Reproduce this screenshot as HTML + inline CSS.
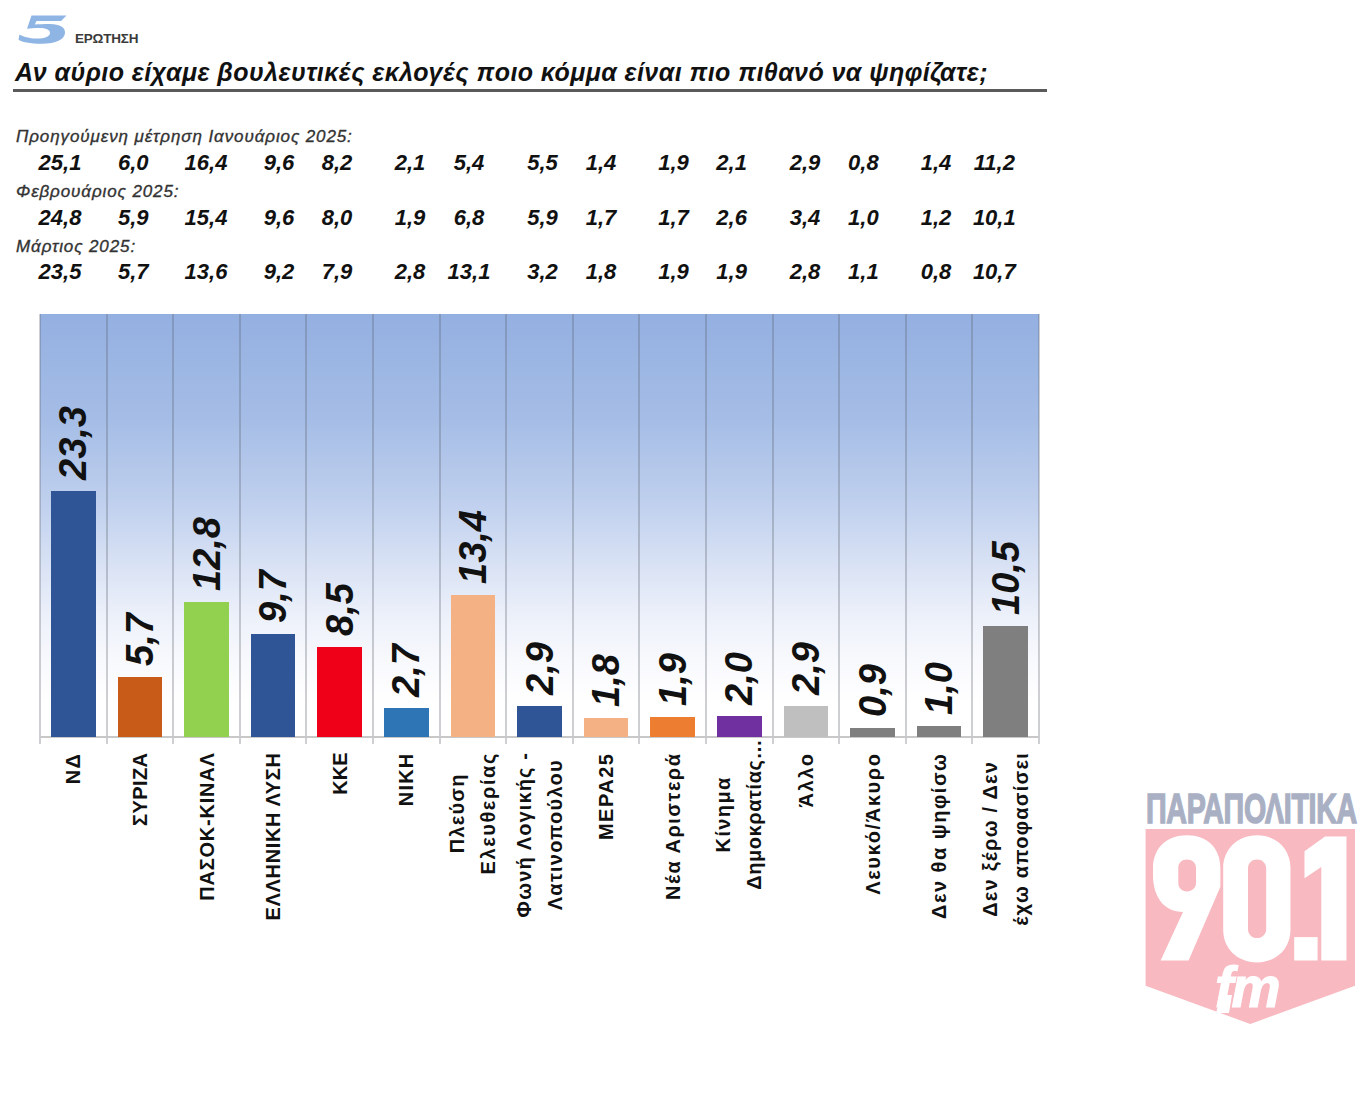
<!DOCTYPE html>
<html><head><meta charset="utf-8"><style>
html,body{margin:0;padding:0;background:#fff;}
body{width:1360px;height:1097px;position:relative;overflow:hidden;font-family:"Liberation Sans",sans-serif;}
.a{position:absolute;white-space:nowrap;line-height:1;}
.lab{font-style:italic;font-size:17px;color:#333;letter-spacing:0.9px;-webkit-text-stroke:0.35px #333;}
.num{font-style:italic;font-weight:bold;font-size:22px;color:#111;width:80px;text-align:center;}
.val{font-style:italic;font-weight:bold;font-size:38px;color:#111;width:160px;height:38px;text-align:left;transform:rotate(-90deg);}
.cat{font-weight:bold;font-size:20px;color:#111;width:240px;text-align:right;transform:rotate(-90deg);line-height:31px;}
.cat span{display:inline-block;text-align:center;}
</style></head><body>

<svg class="a" style="left:0;top:0" width="160" height="60" viewBox="0 0 160 60">
<path fill="#8fb5e5" d="M31.5,15.5 L66.5,15.5 L61,21 L36.5,21 L34.8,24.6 C38,24.2 44,24 50,24 C60,24 65.5,27.5 65,33 C64.5,39.5 56,43.8 42,43.8 C30,43.8 21,42 18.5,39.5 L19.5,34.5 C23,36.5 29,38.6 37,38.6 C45,38.6 50,36.5 50,33 C50,29.5 46,28 39,28 C34,28 30,28.3 27,28.8 Z"/>
</svg>
<div class="a" style="left:75px;top:32px;font-size:13.5px;font-weight:bold;color:#3a3a3a;letter-spacing:-0.2px;">ΕΡΩΤΗΣΗ</div>
<div class="a" style="left:15px;top:59.8px;font-size:25px;font-weight:bold;font-style:italic;color:#111;letter-spacing:0.44px;">Αν αύριο είχαμε βουλευτικές εκλογές ποιο κόμμα είναι πιο πιθανό να ψηφίζατε;</div>
<div class="a" style="left:13px;top:88.5px;width:1034px;height:3px;background:#5a5a5a;"></div>
<div class="a lab" style="left:16px;top:128.1px;">Προηγούμενη μέτρηση Ιανουάριος 2025:</div>
<div class="a num" style="left:20.0px;top:151.9px;">25,1</div>
<div class="a num" style="left:93.3px;top:151.9px;">6,0</div>
<div class="a num" style="left:166.0px;top:151.9px;">16,4</div>
<div class="a num" style="left:239.0px;top:151.9px;">9,6</div>
<div class="a num" style="left:297.0px;top:151.9px;">8,2</div>
<div class="a num" style="left:370.0px;top:151.9px;">2,1</div>
<div class="a num" style="left:429.0px;top:151.9px;">5,4</div>
<div class="a num" style="left:502.5px;top:151.9px;">5,5</div>
<div class="a num" style="left:561.0px;top:151.9px;">1,4</div>
<div class="a num" style="left:633.5px;top:151.9px;">1,9</div>
<div class="a num" style="left:691.6px;top:151.9px;">2,1</div>
<div class="a num" style="left:765.0px;top:151.9px;">2,9</div>
<div class="a num" style="left:823.4px;top:151.9px;">0,8</div>
<div class="a num" style="left:896.0px;top:151.9px;">1,4</div>
<div class="a num" style="left:954.3px;top:151.9px;">11,2</div>
<div class="a lab" style="left:16px;top:182.6px;">Φεβρουάριος 2025:</div>
<div class="a num" style="left:20.0px;top:206.7px;">24,8</div>
<div class="a num" style="left:93.3px;top:206.7px;">5,9</div>
<div class="a num" style="left:166.0px;top:206.7px;">15,4</div>
<div class="a num" style="left:239.0px;top:206.7px;">9,6</div>
<div class="a num" style="left:297.0px;top:206.7px;">8,0</div>
<div class="a num" style="left:370.0px;top:206.7px;">1,9</div>
<div class="a num" style="left:429.0px;top:206.7px;">6,8</div>
<div class="a num" style="left:502.5px;top:206.7px;">5,9</div>
<div class="a num" style="left:561.0px;top:206.7px;">1,7</div>
<div class="a num" style="left:633.5px;top:206.7px;">1,7</div>
<div class="a num" style="left:691.6px;top:206.7px;">2,6</div>
<div class="a num" style="left:765.0px;top:206.7px;">3,4</div>
<div class="a num" style="left:823.4px;top:206.7px;">1,0</div>
<div class="a num" style="left:896.0px;top:206.7px;">1,2</div>
<div class="a num" style="left:954.3px;top:206.7px;">10,1</div>
<div class="a lab" style="left:16px;top:237.6px;">Μάρτιος 2025:</div>
<div class="a num" style="left:20.0px;top:260.9px;">23,5</div>
<div class="a num" style="left:93.3px;top:260.9px;">5,7</div>
<div class="a num" style="left:166.0px;top:260.9px;">13,6</div>
<div class="a num" style="left:239.0px;top:260.9px;">9,2</div>
<div class="a num" style="left:297.0px;top:260.9px;">7,9</div>
<div class="a num" style="left:370.0px;top:260.9px;">2,8</div>
<div class="a num" style="left:429.0px;top:260.9px;">13,1</div>
<div class="a num" style="left:502.5px;top:260.9px;">3,2</div>
<div class="a num" style="left:561.0px;top:260.9px;">1,8</div>
<div class="a num" style="left:633.5px;top:260.9px;">1,9</div>
<div class="a num" style="left:691.6px;top:260.9px;">1,9</div>
<div class="a num" style="left:765.0px;top:260.9px;">2,8</div>
<div class="a num" style="left:823.4px;top:260.9px;">1,1</div>
<div class="a num" style="left:896.0px;top:260.9px;">0,8</div>
<div class="a num" style="left:954.3px;top:260.9px;">10,7</div>
<div class="a" style="left:40.0px;top:314.0px;width:999.0px;height:423.0px;background:linear-gradient(#94b0e1 0%,#a5bde6 25%,#c0d0ee 45%,#dae3f5 60%,#edf1fa 72%,#f8f9fd 82%,#ffffff 92%);"></div>
<div class="a" style="left:39.0px;top:314.0px;width:2px;height:430.0px;background:rgba(90,95,105,0.3);"></div>
<div class="a" style="left:105.6px;top:314.0px;width:2px;height:430.0px;background:rgba(90,95,105,0.3);"></div>
<div class="a" style="left:172.2px;top:314.0px;width:2px;height:430.0px;background:rgba(90,95,105,0.3);"></div>
<div class="a" style="left:238.8px;top:314.0px;width:2px;height:430.0px;background:rgba(90,95,105,0.3);"></div>
<div class="a" style="left:305.4px;top:314.0px;width:2px;height:430.0px;background:rgba(90,95,105,0.3);"></div>
<div class="a" style="left:372.0px;top:314.0px;width:2px;height:430.0px;background:rgba(90,95,105,0.3);"></div>
<div class="a" style="left:438.6px;top:314.0px;width:2px;height:430.0px;background:rgba(90,95,105,0.3);"></div>
<div class="a" style="left:505.2px;top:314.0px;width:2px;height:430.0px;background:rgba(90,95,105,0.3);"></div>
<div class="a" style="left:571.8px;top:314.0px;width:2px;height:430.0px;background:rgba(90,95,105,0.3);"></div>
<div class="a" style="left:638.4px;top:314.0px;width:2px;height:430.0px;background:rgba(90,95,105,0.3);"></div>
<div class="a" style="left:705.0px;top:314.0px;width:2px;height:430.0px;background:rgba(90,95,105,0.3);"></div>
<div class="a" style="left:771.6px;top:314.0px;width:2px;height:430.0px;background:rgba(90,95,105,0.3);"></div>
<div class="a" style="left:838.2px;top:314.0px;width:2px;height:430.0px;background:rgba(90,95,105,0.3);"></div>
<div class="a" style="left:904.8px;top:314.0px;width:2px;height:430.0px;background:rgba(90,95,105,0.3);"></div>
<div class="a" style="left:971.4px;top:314.0px;width:2px;height:430.0px;background:rgba(90,95,105,0.3);"></div>
<div class="a" style="left:1038.0px;top:314.0px;width:2px;height:430.0px;background:rgba(90,95,105,0.3);"></div>
<div class="a" style="left:40.0px;top:736.0px;width:999.0px;height:2px;background:#c8c8c8;"></div>
<div class="a" style="left:51.0px;top:490.6px;width:44.5px;height:246.4px;background:#2f5597;"></div>
<div class="a val" style="left:-6.7px;top:380.6px;">23,3</div>
<div class="a cat" style="left:-46.7px;top:856.5px;height:31px;"><span><i style="font-style:normal;letter-spacing:1.5px">ΝΔ</i></span></div>
<div class="a" style="left:117.6px;top:676.7px;width:44.5px;height:60.3px;background:#c75b17;"></div>
<div class="a val" style="left:59.9px;top:566.7px;">5,7</div>
<div class="a cat" style="left:19.9px;top:856.5px;height:31px;"><span><i style="font-style:normal;letter-spacing:0.44px">ΣΥΡΙΖΑ</i></span></div>
<div class="a" style="left:184.2px;top:601.6px;width:44.5px;height:135.4px;background:#92d050;"></div>
<div class="a val" style="left:126.5px;top:491.6px;">12,8</div>
<div class="a cat" style="left:86.5px;top:856.5px;height:31px;"><span><i style="font-style:normal;letter-spacing:0.77px">ΠΑΣΟΚ-ΚΙΝΑΛ</i></span></div>
<div class="a" style="left:250.8px;top:634.4px;width:44.5px;height:102.6px;background:#2f5597;"></div>
<div class="a val" style="left:193.1px;top:524.4px;">9,7</div>
<div class="a cat" style="left:153.1px;top:856.5px;height:31px;"><span><i style="font-style:normal;letter-spacing:0.65px">ΕΛΛΗΝΙΚΗ ΛΥΣΗ</i></span></div>
<div class="a" style="left:317.4px;top:647.1px;width:44.5px;height:89.9px;background:#f00018;"></div>
<div class="a val" style="left:259.7px;top:537.1px;">8,5</div>
<div class="a cat" style="left:219.7px;top:856.5px;height:31px;"><span><i style="font-style:normal;letter-spacing:0px">ΚΚΕ</i></span></div>
<div class="a" style="left:384.0px;top:708.4px;width:44.5px;height:28.6px;background:#2e75b6;"></div>
<div class="a val" style="left:326.3px;top:598.4px;">2,7</div>
<div class="a cat" style="left:286.3px;top:856.5px;height:31px;"><span><i style="font-style:normal;letter-spacing:1.2px">ΝΙΚΗ</i></span></div>
<div class="a" style="left:450.6px;top:595.3px;width:44.5px;height:141.7px;background:#f4b183;"></div>
<div class="a val" style="left:392.9px;top:485.3px;">13,4</div>
<div class="a cat" style="left:352.9px;top:841.0px;height:62px;"><span><i style="font-style:normal;letter-spacing:1.2px">Πλεύση</i><br><i style="font-style:normal;letter-spacing:1.6px">Ελευθερίας</i></span></div>
<div class="a" style="left:517.2px;top:706.3px;width:44.5px;height:30.7px;background:#2f5597;"></div>
<div class="a val" style="left:459.5px;top:596.3px;">2,9</div>
<div class="a cat" style="left:419.5px;top:841.0px;height:62px;"><span><i style="font-style:normal;letter-spacing:1.12px">Φωνή Λογικής -</i><br><i style="font-style:normal;letter-spacing:1.23px">Λατινοπούλου</i></span></div>
<div class="a" style="left:583.8px;top:718.0px;width:44.5px;height:19.0px;background:#f4b183;"></div>
<div class="a val" style="left:526.1px;top:608.0px;">1,8</div>
<div class="a cat" style="left:486.1px;top:856.5px;height:31px;"><span><i style="font-style:normal;letter-spacing:1.5px">ΜΕΡΑ25</i></span></div>
<div class="a" style="left:650.4px;top:716.9px;width:44.5px;height:20.1px;background:#ed7d31;"></div>
<div class="a val" style="left:592.7px;top:606.9px;">1,9</div>
<div class="a cat" style="left:552.7px;top:856.5px;height:31px;"><span><i style="font-style:normal;letter-spacing:1.48px">Νέα Αριστερά</i></span></div>
<div class="a" style="left:717.0px;top:715.9px;width:44.5px;height:21.1px;background:#7030a0;"></div>
<div class="a val" style="left:659.3px;top:605.9px;">2,0</div>
<div class="a cat" style="left:619.3px;top:828.0px;height:62px;"><span><i style="font-style:normal;letter-spacing:1.38px">Κίνημα</i><br><i style="font-style:normal;letter-spacing:0.55px">Δημοκρατίας…</i></span></div>
<div class="a" style="left:783.6px;top:706.3px;width:44.5px;height:30.7px;background:#bfbfbf;"></div>
<div class="a val" style="left:725.9px;top:596.3px;">2,9</div>
<div class="a cat" style="left:685.9px;top:856.5px;height:31px;"><span><i style="font-style:normal;letter-spacing:1.6px">Άλλο</i></span></div>
<div class="a" style="left:850.2px;top:727.5px;width:44.5px;height:9.5px;background:#7f7f7f;"></div>
<div class="a val" style="left:792.5px;top:617.5px;">0,9</div>
<div class="a cat" style="left:752.5px;top:856.5px;height:31px;"><span><i style="font-style:normal;letter-spacing:1.6px">Λευκό/Άκυρο</i></span></div>
<div class="a" style="left:916.8px;top:726.4px;width:44.5px;height:10.6px;background:#7f7f7f;"></div>
<div class="a val" style="left:859.1px;top:616.4px;">1,0</div>
<div class="a cat" style="left:819.1px;top:856.5px;height:31px;"><span><i style="font-style:normal;letter-spacing:1.5px">Δεν θα ψηφίσω</i></span></div>
<div class="a" style="left:983.4px;top:626.0px;width:44.5px;height:111.0px;background:#7f7f7f;"></div>
<div class="a val" style="left:925.7px;top:516.0px;">10,5</div>
<div class="a cat" style="left:885.7px;top:841.0px;height:62px;"><span><i style="font-style:normal;letter-spacing:1.23px">Δεν ξέρω / Δεν</i><br><i style="font-style:normal;letter-spacing:1.23px">έχω αποφασίσει</i></span></div>
<div class="a" style="left:1146px;top:789px;width:212px;height:38px;font-weight:bold;font-size:43px;color:#aab0c4;line-height:38px;overflow:visible;"><span style="display:inline-block;transform-origin:0 0;transform:scaleX(0.665);-webkit-text-stroke:1.5px #aab0c4;letter-spacing:-0.5px;">ΠΑΡΑΠΟΛΙΤΙΚΑ</span></div>
<svg class="a" style="left:0;top:0" width="1360" height="1097" viewBox="0 0 1360 1097">
<path fill="#f8b9c0" d="M1145.6,829 L1355,829 L1355,985.7 L1250.3,1024 L1145.6,985.7 Z"/>
<path fill="#fff" fill-rule="evenodd" d="M1187,835.3 C1207,835.3 1220.4,848 1220.4,868 L1220.4,886.7 L1188.6,960.5 L1160.6,960.5 L1183,912 C1165,912 1153,898 1153,875 L1153,868 C1153,848 1167,835.3 1187,835.3 Z M1187,859.6 C1182,859.6 1178.3,863 1178.3,868 L1178.3,883 C1178.3,888 1182,891.4 1187,891.4 C1192,891.4 1196,888 1196,883 L1196,868 C1196,863 1192,859.6 1187,859.6 Z"/>
<path fill="#fff" fill-rule="evenodd" d="M1257,835.3 C1277,835.3 1290.5,850 1290.5,868 L1290.5,930 C1290.5,948 1277,962.4 1257,962.4 C1237,962.4 1223.2,948 1223.2,930 L1223.2,868 C1223.2,850 1237,835.3 1257,835.3 Z M1257,859.6 C1252,859.6 1248,863 1248,868.6 L1248,929 C1248,934.5 1252,938.1 1257,938.1 C1262,938.1 1266.2,934.5 1266.2,929 L1266.2,868.6 C1266.2,863 1262,859.6 1257,859.6 Z"/>
<rect fill="#fff" x="1294.2" y="937.1" width="23.4" height="23.4"/>
<path fill="#fff" d="M1325,836.6 L1346.5,836.6 L1346.5,960.5 L1321.3,960.5 L1321.3,867 L1304.5,878.3 L1304.5,851.2 Z"/>
</svg>
<div class="a" style="left:1215px;top:958px;font-weight:bold;font-style:italic;font-size:58px;color:#fff;line-height:58px;"><span style="display:inline-block;transform-origin:0 0;transform:scaleX(0.95);letter-spacing:-2px;-webkit-text-stroke:1.2px #fff;">fm</span></div>
<svg class="a" style="left:0;top:0" width="1360" height="1097"><path fill="#fff" d="M1221,995 L1232,995 L1229,1013 L1216,1013 Z"/></svg>

</body></html>
